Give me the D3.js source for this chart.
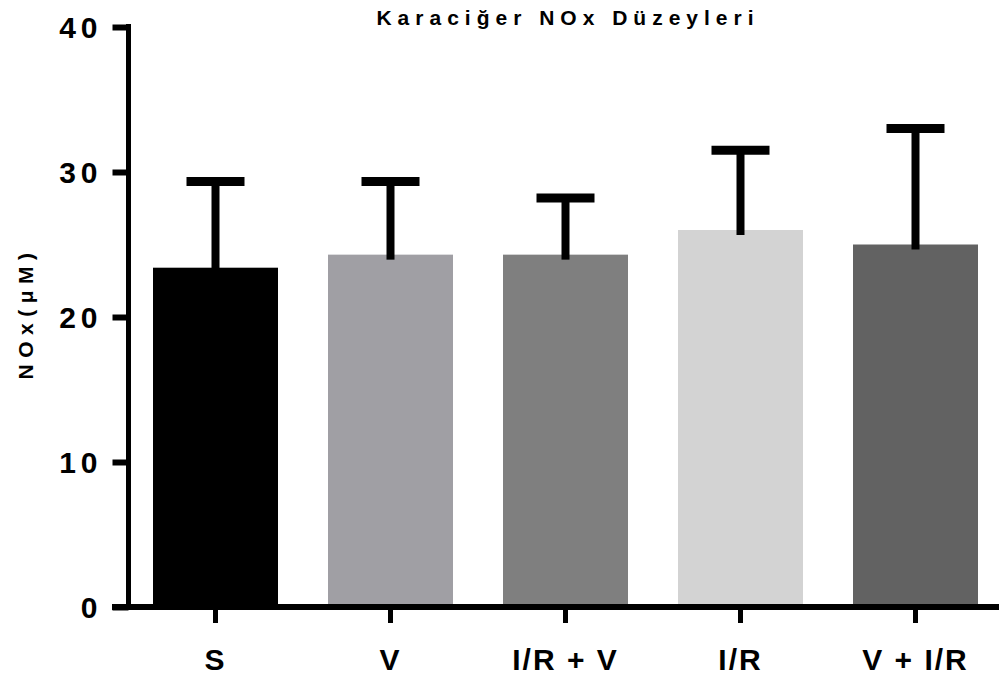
<!DOCTYPE html>
<html>
<head>
<meta charset="utf-8">
<script src="https://cdn.jsdelivr.net/npm/d3@7"></script>
<style>
  body { margin: 0; background: #fff; }
  svg { display: block; }
  text { font-family: "Liberation Sans", Arial, sans-serif; font-weight: bold; fill: #000; }
</style>
</head>
<body>
<svg id="chart" width="999" height="681"></svg>
<script>
var groups = ["S", "V", "I/R + V", "I/R", "V + I/R"];
var means = [23.4, 24.3, 24.3, 26.0, 25.0];
var upper = [29.35, 29.35, 28.2, 31.5, 33.0];
var colors = ["#000000", "#a09fa4", "#7f7f7f", "#d3d3d3", "#626262"];
var yTicks = [0, 10, 20, 30, 40];

var svg = d3.select("#chart");

var y = d3.scaleLinear().domain([0, 40]).range([607, 27]);
var x = d3.scaleBand()
  .domain(groups)
  .range([128, 1003])
  .paddingInner(50 / 175)
  .paddingOuter(25 / 175);

// bars
svg.selectAll("rect.bar")
  .data(groups)
  .enter()
  .append("rect")
  .attr("class", "bar")
  .attr("x", function(d) { return x(d); })
  .attr("y", function(d, i) { return y(means[i]); })
  .attr("width", x.bandwidth())
  .attr("height", function(d, i) { return y(0) - y(means[i]); })
  .attr("fill", function(d, i) { return colors[i]; });

// error bars (upper only)
var err = svg.selectAll("g.err")
  .data(groups)
  .enter()
  .append("g")
  .attr("class", "err");

err.append("line")
  .attr("x1", function(d) { return x(d) + x.bandwidth() / 2; })
  .attr("x2", function(d) { return x(d) + x.bandwidth() / 2; })
  .attr("y1", function(d, i) { return y(means[i]) + 5; })
  .attr("y2", function(d, i) { return y(upper[i]); })
  .attr("stroke", "#000")
  .attr("stroke-width", 8);

err.append("line")
  .attr("x1", function(d) { return x(d) + x.bandwidth() / 2 - 29; })
  .attr("x2", function(d) { return x(d) + x.bandwidth() / 2 + 29; })
  .attr("y1", function(d, i) { return y(upper[i]); })
  .attr("y2", function(d, i) { return y(upper[i]); })
  .attr("stroke", "#000")
  .attr("stroke-width", 9);

// y axis
var yAxis = svg.append("g")
  .attr("transform", "translate(128.5,0)")
  .call(d3.axisLeft(y).tickValues(yTicks).tickSize(16).tickSizeOuter(0).tickPadding(13));
yAxis.select(".domain").remove();
yAxis.append("line")
  .attr("x1", 0).attr("x2", 0)
  .attr("y1", 24).attr("y2", 610)
  .attr("stroke", "#000").attr("stroke-width", 5);
yAxis.selectAll(".tick line").attr("stroke", "#000").attr("stroke-width", 6);
yAxis.selectAll(".tick text")
  .attr("font-size", 30)
  .attr("letter-spacing", 5)
  .attr("dx", 3)
  .attr("dy", "0.36em")
  .attr("font-family", "Liberation Sans, Arial, sans-serif")
  .attr("font-weight", "bold")
  .attr("fill", "#000");

// x axis
var xAxis = svg.append("g")
  .attr("transform", "translate(0,607)")
  .call(d3.axisBottom(x).tickSize(16).tickSizeOuter(0).tickPadding(26));
xAxis.select(".domain").remove();
xAxis.append("line")
  .attr("x1", 112).attr("x2", 999)
  .attr("y1", 0).attr("y2", 0)
  .attr("stroke", "#000").attr("stroke-width", 6);
xAxis.selectAll(".tick line").attr("stroke", "#000").attr("stroke-width", 5);
xAxis.selectAll(".tick text")
  .attr("font-size", 30)
  .attr("letter-spacing", 2)
  .attr("font-family", "Liberation Sans, Arial, sans-serif")
  .attr("font-weight", "bold")
  .attr("fill", "#000");

// title
svg.append("text")
  .attr("x", 568)
  .attr("y", 25)
  .attr("text-anchor", "middle")
  .attr("font-size", 21)
  .attr("letter-spacing", 6)
  .text("Karaciğer NOx Düzeyleri");

// y axis title
svg.append("text")
  .attr("transform", "translate(33,313) rotate(-90)")
  .attr("text-anchor", "middle")
  .attr("font-size", 21)
  .attr("letter-spacing", 6.5)
  .text("NOx(μM)");
</script>
</body>
</html>
